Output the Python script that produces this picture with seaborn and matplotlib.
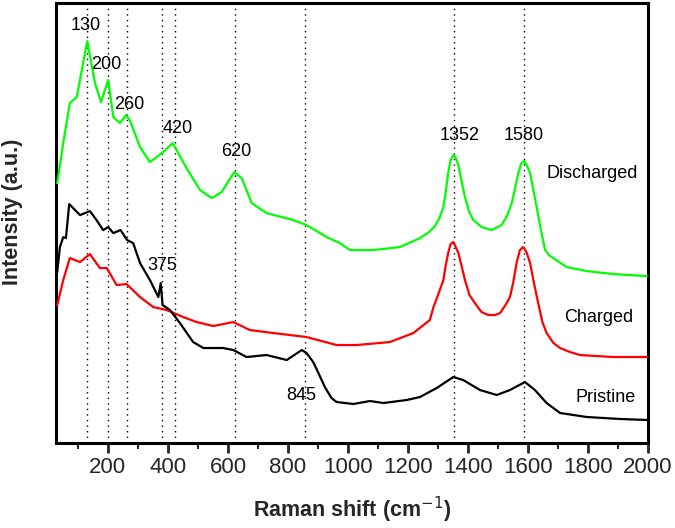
import pandas as pd
import matplotlib
matplotlib.use('Agg')
import matplotlib.pyplot as plt
import seaborn as sns

# --- datos (intensidad en unidades arbitrarias) ---
discharged_x = [31, 51, 73, 96, 131, 157, 177, 201, 218, 240, 260, 273, 307, 340, 384, 416,
                462, 507, 546, 579, 621, 646, 679, 729, 818, 862, 929, 973, 1007, 1084, 1173,
                1240, 1270, 1290, 1305, 1318, 1326, 1334, 1342, 1351, 1358, 1368, 1378, 1390,
                1404, 1418, 1446, 1479, 1512, 1530, 1546, 1557, 1568, 1578, 1587, 1596, 1607,
                1618, 1629, 1643, 1657, 1670, 1684, 1729, 1796, 1884, 1996]
discharged_y = [262, 302, 342, 348, 404, 362, 343, 365, 328, 322, 330, 325, 298, 283, 293, 302,
                277, 255, 247, 253, 273, 267, 242, 232, 225, 220, 208, 202, 195, 195, 198,
                207, 213, 219, 227, 238, 253, 272, 285, 290, 288, 280, 265, 248,
                233, 225, 218, 215, 220, 229, 242, 257, 272, 282, 284, 280, 272,
                255, 238, 215, 195, 190, 187, 178, 174, 171, 169]

charged_x = [31, 51, 73, 107, 140, 173, 196, 229, 262, 307, 351, 396, 451, 496, 551, 618,
             673, 751, 862, 962, 1029, 1140, 1218, 1273, 1284, 1300, 1318, 1326, 1334, 1342,
             1351, 1358, 1368, 1378, 1390, 1405, 1423, 1445, 1468, 1490, 1507, 1525, 1540,
             1551, 1562, 1573, 1584, 1595, 1607, 1620, 1634, 1648, 1662, 1685, 1707, 1740,
             1773, 1884, 2000]
charged_y = [140, 165, 187, 183, 191, 177, 177, 160, 161, 148, 138, 135, 128, 123, 119, 123,
             115, 112, 108, 100, 100, 103, 112, 125, 137, 150, 165, 180, 192, 201,
             203, 199, 192, 180, 165, 150, 142, 133, 130, 130, 132, 140, 148,
             163, 182, 195, 198, 193, 182, 162, 142, 123, 112, 102, 97, 93,
             90, 88, 88]

pristine_x = [31, 40, 51, 60, 71, 84, 107, 140, 162, 184, 201, 218, 242, 264, 284, 307, 340,
              368, 376, 382, 407, 440, 484, 518, 584, 618, 662, 729, 796, 846, 862, 884, 900,
              923, 945, 962, 1018, 1073, 1118, 1196, 1240, 1296, 1351, 1384, 1440, 1496, 1540,
              1590, 1623, 1662, 1707, 1796, 1907, 2000]
pristine_y = [173, 198, 208, 207, 241, 237, 230, 234, 225, 215, 218, 212, 215, 205, 202, 182,
              165, 148, 162, 140, 135, 122, 103, 97, 97, 95, 88, 90, 85, 95, 92, 83, 73,
              58, 47, 43, 41, 44, 42, 45, 48, 57, 68, 65, 55, 50, 55,
              63, 55, 42, 32, 28, 26, 25]

# líneas punteadas y etiquetas de picos
peak_lines = [130, 200, 262, 380, 425, 622, 857, 1352, 1588]
peak_labels = ['130', '200', '260', '420', '620', '375', '845', '1352', '1580']
label_x = [127, 196, 271, 431, 629, 382, 845, 1371, 1587]
label_y = [420, 381, 341, 317, 294, 180, 50, 310, 310]

sample_names = ['Discharged', 'Charged', 'Pristine']
sample_colors = ['#00ff00', '#ff0000', '#000000']
name_x = [1814, 1837, 1860]
name_y = [272, 128, 48]

df = pd.concat([
    pd.DataFrame({'shift': discharged_x, 'intensity': discharged_y, 'muestra': 'Discharged'}),
    pd.DataFrame({'shift': charged_x, 'intensity': charged_y, 'muestra': 'Charged'}),
    pd.DataFrame({'shift': pristine_x, 'intensity': pristine_y, 'muestra': 'Pristine'}),
])

sns.set_theme(style="ticks")
plt.rcParams['font.family'] = ['Liberation Sans', 'DejaVu Sans']

fig = plt.figure(figsize=(6.75, 5.28), dpi=100)
ax = fig.add_axes([0.083, 0.161, 0.877, 0.833])

for x in peak_lines:
    ax.axvline(x, color='black', linestyle=(0, (1, 3)), linewidth=1.0, zorder=1)

sns.lineplot(data=df, x='shift', y='intensity', hue='muestra', hue_order=sample_names,
             palette=sample_colors, estimator=None, sort=True, linewidth=1.6,
             legend=False, ax=ax, zorder=3)

for t, x, y in zip(peak_labels, label_x, label_y):
    ax.text(x, y, t, ha='center', va='center', fontsize=13, color='black')
for t, x, y in zip(sample_names, name_x, name_y):
    ax.text(x, y, t, ha='center', va='center', fontsize=13, color='black')

ax.set_xlim(27, 2000)
ax.set_ylim(2, 442)
ax.set_xticks(range(200, 2001, 200))
ax.set_xticks(range(100, 2001, 100), minor=True)
ax.set_yticks([])
ax.tick_params(axis='x', which='major', direction='out', length=7, width=2, labelsize=16, pad=3)
ax.tick_params(axis='x', which='minor', direction='out', length=4, width=1.5)
for s in ax.spines.values():
    s.set_linewidth(2.2)
    s.set_color('black')

ax.set_xlabel('Raman shift (cm$^{-1}$)', fontsize=15.5, fontweight='bold', labelpad=12)
ax.set_ylabel('Intensity (a.u.)', fontsize=15.5, fontweight='bold')
ax.yaxis.set_label_coords(-0.056, 0.525)

plt.savefig('out.png', dpi=100)
